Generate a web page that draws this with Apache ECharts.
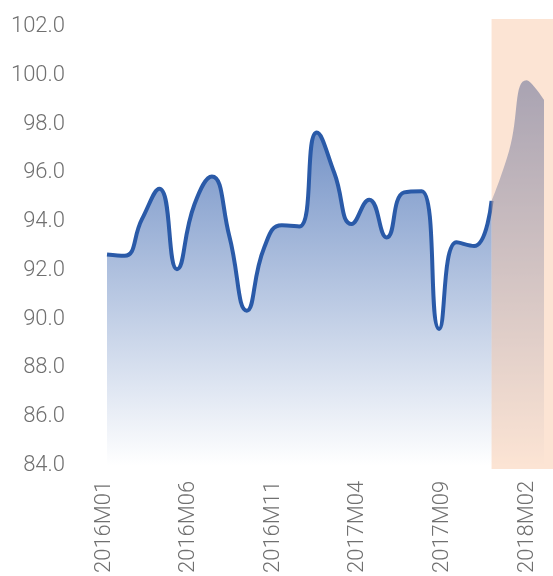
<!DOCTYPE html>
<html><head><meta charset="utf-8">
<script src="https://cdn.jsdelivr.net/npm/echarts@6/dist/echarts.min.js"></script>
<style>html,body{margin:0;padding:0;background:#fff}#c{width:553px;height:576px}</style>
</head><body><div id="c"></div>
<script>
// ---- data ----
const months = ['2016M01','2016M02','2016M03','2016M04','2016M05','2016M06','2016M07','2016M08','2016M09','2016M10','2016M11','2016M12',
  '2017M01','2017M02','2017M03','2017M04','2017M05','2017M06','2017M07','2017M08','2017M09','2017M10','2017M11','2017M12',
  '2018M01','2018M02'];
const values = [92.65, 92.6, 94.1, 95.35, 92.05, 94.7, 95.85, 93.4, 90.35, 92.95, 93.85, 93.8,
  97.65, 96.0, 93.9, 94.9, 93.35, 95.2, 95.25, 89.6, 93.15, 93.0, 94.85, 96.9, 99.8, 99.0];
const forecastStart = '2017M11';
const yMin = 84, yMax = 102, yStep = 2;

// ---- layout ----
const W = 553;
const dataGrid = {left: 107, right: 9, top: 26.5, bottom: 110.5};
const shadeGrid = {left: 107, right: 0, top: 19, bottom: 107};
const labelGrid = {left: 104, right: 26, top: 19, bottom: 107};
const fcIdx = months.indexOf(forecastStart);
const lastIdx = months.length - 1;
const shadeMax = lastIdx * (W - shadeGrid.left - shadeGrid.right) / (W - dataGrid.left - dataGrid.right);

const actual = values.map((v, i) => i <= fcIdx ? v : '-');
const forecast = values.map((v, i) => i >= fcIdx ? v : '-');

const fontFamily = 'Roboto';
const areaGrad = () => ({type: 'linear', x: 0, y: 0, x2: 0, y2: 1, colorStops: [
  {offset: 0, color: 'rgba(58,101,175,1)'},
  {offset: 1, color: 'rgba(58,101,175,0)'}
]});
const chart = echarts.init(document.getElementById('c'), null, {renderer: 'canvas'});
chart.setOption({
  animation: false,
  backgroundColor: '#fff',
  grid: [
    Object.assign({containLabel: false}, dataGrid),
    Object.assign({containLabel: false}, shadeGrid),
    Object.assign({containLabel: false}, labelGrid)
  ],
  xAxis: [
    {type: 'category', gridIndex: 0, data: months, boundaryGap: false, show: false},
    {type: 'value', gridIndex: 1, min: 0, max: shadeMax, show: false},
    {type: 'category', gridIndex: 2, data: months, boundaryGap: false,
      axisLine: {show: false}, axisTick: {show: false}, splitLine: {show: false},
      axisLabel: {interval: 4, rotate: 90, margin: 14, color: '#707070', fontSize: 22, fontWeight: 300, fontFamily: fontFamily}}
  ],
  yAxis: [
    {type: 'value', gridIndex: 0, min: yMin, max: yMax, interval: yStep,
      axisLine: {show: false}, axisTick: {show: false}, splitLine: {show: false},
      axisLabel: {margin: 42, color: '#707070', fontSize: 22, fontWeight: 300, fontFamily: fontFamily,
        formatter: v => v.toFixed(1)}},
    {type: 'value', gridIndex: 1, min: 0, max: 1, show: false},
    {type: 'value', gridIndex: 2, min: 0, max: 1, show: false}
  ],
  series: [
    {
      type: 'line', xAxisIndex: 0, yAxisIndex: 0, data: actual, smooth: 0.5,
      showSymbol: false, symbol: 'none', z: 3,
      lineStyle: {width: 4, color: '#2a5aa8'},
      areaStyle: {origin: 'start', color: areaGrad()}
    },
    {
      type: 'line', xAxisIndex: 0, yAxisIndex: 0, data: forecast, smooth: 0.5,
      showSymbol: false, symbol: 'none', z: 2,
      lineStyle: {width: 0, color: 'rgba(0,0,0,0)'},
      areaStyle: {origin: 'start', color: areaGrad()}
    },
    {
      type: 'line', xAxisIndex: 1, yAxisIndex: 1, data: [], z: 10,
      markArea: {silent: true, z: 10, itemStyle: {color: 'rgba(247,187,147,0.4)'},
        data: [[{xAxis: fcIdx}, {xAxis: shadeMax}]]}
    }
  ]
});
</script></body></html>
